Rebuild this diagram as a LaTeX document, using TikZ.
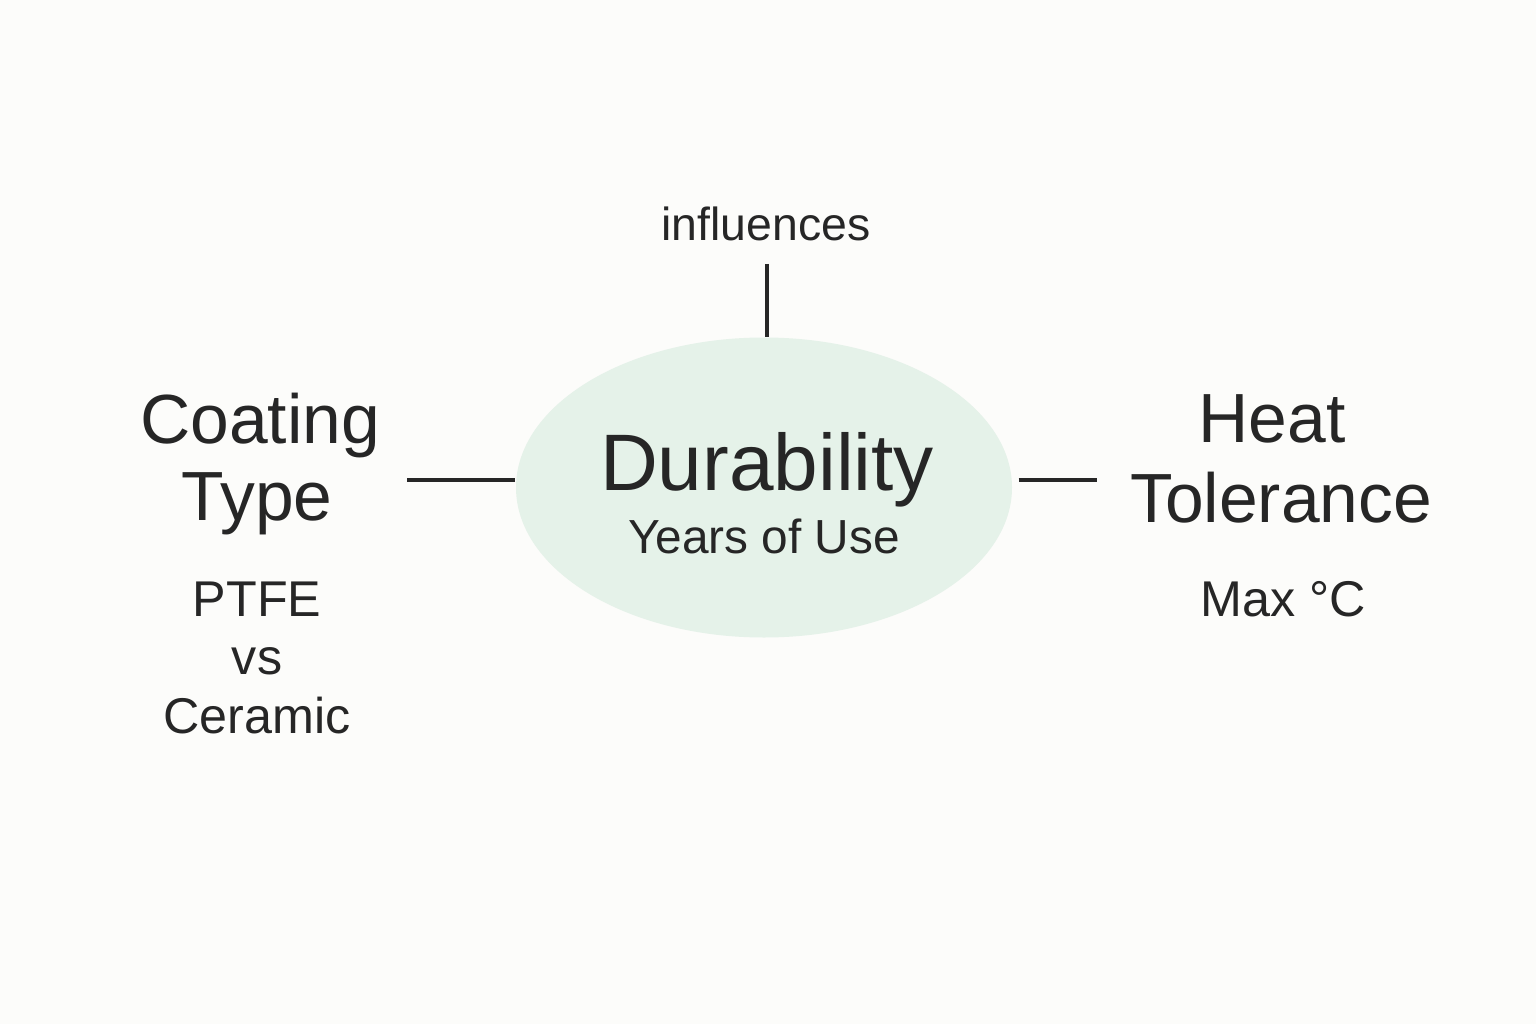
\documentclass[tikz,border=0pt]{standalone}
\usepackage{fontspec}
\setmainfont{Liberation Sans}
\usetikzlibrary{shapes.geometric}
\definecolor{bgc}{HTML}{FCFCFA}
\definecolor{ovalc}{HTML}{E5F2E9}
\definecolor{inkc}{HTML}{262626}
\tikzset{
  txt/.style={inner sep=0pt, anchor=base, text=inkc},
  title/.style={txt, font=\fontsize{19.8}{23}\selectfont},
  sub/.style={txt, font=\fontsize{14.3}{17}\selectfont},
  conn/.style={draw=inkc, line width=1pt},
}
\begin{document}
\begin{tikzpicture}
\fill[bgc] (0,0) rectangle (15.36,10.24);
\useasboundingbox (0,0) rectangle (15.36,10.24);
% central oval
\node[ellipse, fill=ovalc, minimum width=4.96cm, minimum height=3.0cm, inner sep=0pt] (dur) at (7.64,5.365) {};
\node[txt, font=\fontsize{22.8}{27}\selectfont] (durT) at (7.67,5.34) {Durability};
\node[txt, font=\fontsize{13.6}{16}\selectfont] (years) at (7.64,4.71) {Years of Use};
% top label
\node[txt, font=\fontsize{13.2}{16}\selectfont] (infl) at (7.66,7.83) {influences};
\coordinate (topend) at (7.67,7.60);
\draw[conn] (topend) -- (topend |- dur.north);
% left group
\node[title] (coat1) at (2.60,5.81) {Coating};
\node[title] (coat2) at (2.57,5.04) {Type};
\node[sub] (ptfe) at (2.57,4.08) {PTFE};
\node[sub] (vs) at (2.57,3.50) {vs};
\node[sub] (cer) at (2.57,2.91) {Ceramic};
\coordinate (lend) at (4.07,5.44);
\draw[conn] (lend) -- (dur.west |- lend);
% right group
\node[title] (heat1) at (12.72,5.82) {Heat};
\node[title] (heat2) at (12.81,5.02) {Tolerance};
\node[sub] (maxc) at (12.83,4.08) {Max °C};
\coordinate (rend) at (10.97,5.44);
\draw[conn] ([xshift=0.06cm]dur.east |- rend) -- (rend);
\end{tikzpicture}
\end{document}
